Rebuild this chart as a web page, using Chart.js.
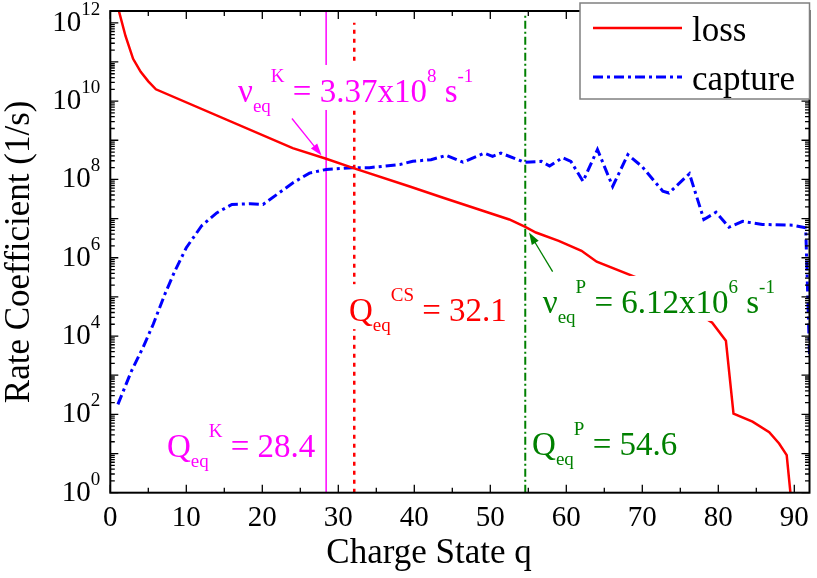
<!DOCTYPE html>
<html>
<head>
<meta charset="utf-8">
<script src="https://cdn.jsdelivr.net/npm/chart.js@4.4.1/dist/chart.umd.min.js"></script>
<style>
  html, body { margin: 0; padding: 0; background: #fff; }
</style>
</head>
<body>
<canvas id="rateChart" width="817" height="578"></canvas>
<script>
// ==============================|| DATA ||============================== //
const lossQ    = [1, 2, 3, 4, 5, 6, 24, 28.4, 32, 39.4, 43.8, 52.5, 54.6, 56, 59, 62, 64, 71.5, 79.2, 81, 82, 84.5, 86.7, 88, 89, 90];
const lossRate = [2.5e12, 4.6e11, 1.2e11, 5.6e10, 3.2e10, 2.0e10, 6.3e8, 3.37e8, 1.95e8, 6.6e7, 3.4e7, 9.5e6, 6.12e6, 4.4e6, 2.7e6, 1.5e6, 7.9e5, 2.1e5, 2.2e4, 7.6e3, 105, 65, 35, 18, 9.1, 0.1];

const captureQ    = [1, 2.8, 4.3, 5.65, 7.2, 8.5, 10, 12, 14, 16, 18.4, 20.1, 21.9, 24, 26.2, 28.4, 31.9, 34.1, 38.1, 39.8, 42.2, 44.2, 46.4, 49.2, 50.3, 51.4, 54.5, 56.7, 57.8, 59.5, 60.6, 62.2, 64.1, 66.1, 68.1, 70, 72.7, 73.5, 76.2, 78.1, 79.7, 81.4, 83.2, 85.8, 89.8, 91.5, 92];
const captureRate = [180, 1.3e3, 5.1e3, 2.0e4, 1.2e5, 4.6e5, 1.8e6, 6.5e6, 1.4e7, 2.3e7, 2.4e7, 2.3e7, 4.1e7, 8.1e7, 1.45e8, 1.8e8, 2.0e8, 2.0e8, 2.4e8, 2.9e8, 3.2e8, 4.1e8, 2.75e8, 4.7e8, 3.9e8, 4.7e8, 2.75e8, 2.9e8, 2.2e8, 3.6e8, 2.9e8, 8.9e7, 5.8e8, 6.6e7, 4.3e8, 2.1e8, 5.0e7, 4.5e7, 1.4e8, 9.5e6, 1.45e7, 6.0e6, 8.5e6, 7.1e6, 6.8e6, 5.8e6, 3.5e3];

// equilibrium charge states (vertical markers)
const qEqK = 28.4;
const qEqCS = 32.1;
const qEqP = 54.6;

// axis ticks
const xTickValues = [0, 10, 20, 30, 40, 50, 60, 70, 80, 90];
const yTickExps = [0, 2, 4, 6, 8, 10, 12];

// ==============================|| STYLE ||============================== //
const FONT = '"Liberation Serif", "Times New Roman", serif';
const RED = '#ff0000';
const BLUE = '#0000ff';
const MAGENTA = '#ff00ff';
const GREEN = '#008000';

const pts = (xs, ys) => xs.map((q, i) => ({ x: q, y: ys[i] }));

// text annotations: [text, level] level 0 normal, 1 subscript, 2 superscript
const notes = [
  { q: 16.8, v: 9.5e9, color: MAGENTA, parts: [['\u03bd', 0], ['eq', 1], ['K', 2], [' = 3.37x10', 0], ['8', 2], [' s', 0], ['-1', 2]] },
  { q: 31.4, v: 2.4e4, color: RED,     parts: [['Q', 0], ['eq', 1], ['CS', 2], [' = 32.1', 0]] },
  { q: 56.9, v: 3.9e4, color: GREEN,   parts: [['\u03bd', 0], ['eq', 1], ['P', 2], [' = 6.12x10', 0], ['6', 2], [' s', 0], ['-1', 2]] },
  { q: 7.45, v: 8.1,   color: MAGENTA, parts: [['Q', 0], ['eq', 1], ['K', 2], [' = 28.4', 0]] },
  { q: 55.5, v: 9.1,   color: GREEN,   parts: [['Q', 0], ['eq', 1], ['P', 2], [' = 54.6', 0]] }
];

const arrows = [
  { from: [23.9, 3.6e9], to: [27.8, 4.1e8], color: MAGENTA },
  { from: [58.2, 4.4e5], to: [55.1, 4.4e6], color: GREEN }
];

// ==============================|| HELPERS ||============================== //
function drawParts(ctx, x0, base, parts, color) {
  const MAIN = 33, SMALL = 19;
  let cx = x0;
  const items = parts.map(([t, lvl]) => {
    ctx.font = `${lvl ? SMALL : MAIN}px ${FONT}`;
    const w = ctx.measureText(t).width;
    const it = { t, lvl, x: cx };
    cx += w;
    return it;
  });
  ctx.fillStyle = '#fff';
  ctx.fillRect(x0 - 3, base - 37, cx - x0 + 6, 45);
  ctx.fillStyle = color;
  ctx.textBaseline = 'alphabetic';
  ctx.textAlign = 'left';
  items.forEach(it => {
    ctx.font = `${it.lvl ? SMALL : MAIN}px ${FONT}`;
    const dy = it.lvl === 1 ? 10 : it.lvl === 2 ? -20 : 0;
    ctx.fillText(it.t, it.x, base + dy);
  });
}

function drawArrow(ctx, x1, y1, x2, y2, color) {
  const ang = Math.atan2(y2 - y1, x2 - x1);
  const len = 12, half = 4;
  ctx.strokeStyle = color;
  ctx.fillStyle = color;
  ctx.lineWidth = 1.3;
  ctx.setLineDash([]);
  ctx.beginPath();
  ctx.moveTo(x1, y1);
  ctx.lineTo(x2 - Math.cos(ang) * len * 0.8, y2 - Math.sin(ang) * len * 0.8);
  ctx.stroke();
  ctx.beginPath();
  ctx.moveTo(x2, y2);
  ctx.lineTo(x2 - Math.cos(ang) * len - Math.sin(ang) * half, y2 - Math.sin(ang) * len + Math.cos(ang) * half);
  ctx.lineTo(x2 - Math.cos(ang) * len + Math.sin(ang) * half, y2 - Math.sin(ang) * len - Math.cos(ang) * half);
  ctx.closePath();
  ctx.fill();
}

// ==============================|| DECORATION PLUGIN ||============================== //
const decorations = {
  id: 'decorations',
  afterDatasetsDraw(chart) {
    const { ctx, scales: { x, y } } = chart;
    ctx.save();
    notes.forEach(n => drawParts(ctx, x.getPixelForValue(n.q), y.getPixelForValue(n.v), n.parts, n.color));
    arrows.forEach(a => drawArrow(ctx,
      x.getPixelForValue(a.from[0]), y.getPixelForValue(a.from[1]),
      x.getPixelForValue(a.to[0]), y.getPixelForValue(a.to[1]), a.color));
    ctx.restore();
  },
  afterDraw(chart) {
    const { ctx, chartArea: a, scales: { x, y } } = chart;
    ctx.save();
    ctx.strokeStyle = '#000';
    ctx.setLineDash([]);

    // tick marks, inward on all four sides
    ctx.lineWidth = 1.3;
    ctx.beginPath();
    for (let q = 0; q <= 92; q += 5) {
      const px = x.getPixelForValue(q);
      const len = q % 10 === 0 ? 8 : 5;
      ctx.moveTo(px, a.bottom); ctx.lineTo(px, a.bottom - len);
      ctx.moveTo(px, a.top); ctx.lineTo(px, a.top + len);
    }
    for (let d = 0; d <= 12; d++) {
      for (let m = 1; m <= 9; m++) {
        const v = m * Math.pow(10, d);
        if (v > y.max) break;
        const py = y.getPixelForValue(v);
        const len = m === 1 ? 8 : 4.5;
        ctx.moveTo(a.left, py); ctx.lineTo(a.left + len, py);
        ctx.moveTo(a.right, py); ctx.lineTo(a.right - len, py);
      }
    }
    ctx.stroke();

    // frame
    ctx.lineWidth = 2;
    ctx.strokeRect(a.left, a.top, a.right - a.left, a.bottom - a.top);

    // y tick labels 10^n
    ctx.fillStyle = '#000';
    ctx.textBaseline = 'alphabetic';
    ctx.textAlign = 'left';
    yTickExps.forEach(e => {
      const py = y.getPixelForValue(Math.pow(10, e));
      ctx.font = `19px ${FONT}`;
      const sup = String(e);
      const ws = ctx.measureText(sup).width;
      ctx.font = `29px ${FONT}`;
      const wb = ctx.measureText('10').width;
      const right = a.left - 10;
      ctx.fillText('10', right - ws - wb, py + 8);
      ctx.font = `19px ${FONT}`;
      ctx.fillText(sup, right - ws, py - 8);
    });

    // axis titles
    ctx.font = `35px ${FONT}`;
    ctx.textAlign = 'center';
    ctx.fillText('Charge State q', 429, 563);
    ctx.save();
    ctx.translate(29, (a.top + a.bottom) / 2);
    ctx.rotate(-Math.PI / 2);
    ctx.fillText('Rate Coefficient (1/s)', 0, 0);
    ctx.restore();

    // legend
    const lx = 580, ly = 3, lw = a.right - lx, lh = 96;
    ctx.fillStyle = '#fff';
    ctx.fillRect(lx, ly, lw, lh);
    ctx.strokeStyle = '#808080';
    ctx.lineWidth = 1.5;
    ctx.strokeRect(lx, ly, lw, lh);
    [0, 1].forEach((i, k) => {
      const ds = chart.data.datasets[i];
      const yy = ly + 25 + k * 49;
      ctx.strokeStyle = ds.borderColor;
      ctx.lineWidth = ds.borderWidth;
      ctx.setLineDash(ds.borderDash || []);
      ctx.beginPath();
      ctx.moveTo(lx + 13, yy);
      ctx.lineTo(lx + 102, yy);
      ctx.stroke();
      ctx.setLineDash([]);
      ctx.fillStyle = '#000';
      ctx.font = `35px ${FONT}`;
      ctx.textAlign = 'left';
      ctx.fillText(ds.label, lx + 112, yy + 13);
    });
    ctx.restore();
  }
};

// ==============================|| CHART ||============================== //
new Chart(document.getElementById('rateChart'), {
  type: 'line',
  data: {
    datasets: [
      { label: 'loss', data: pts(lossQ, lossRate), borderColor: RED, borderWidth: 2.5, pointRadius: 0, tension: 0 },
      { label: 'capture', data: pts(captureQ, captureRate), borderColor: BLUE, borderWidth: 3, borderDash: [10, 4, 3, 4], pointRadius: 0, tension: 0 },
      { label: 'QK', data: pts([qEqK, qEqK], [1, 2e12]), borderColor: MAGENTA, borderWidth: 1.5, pointRadius: 0 },
      { label: 'QCS', data: pts([qEqCS, qEqCS], [1, 1e12]), borderColor: RED, borderWidth: 2.5, borderDash: [4, 5], pointRadius: 0 },
      { label: 'QP', data: pts([qEqP, qEqP], [1, 1.6e12]), borderColor: GREEN, borderWidth: 2, borderDash: [8, 3, 2, 3], pointRadius: 0 }
    ]
  },
  options: {
    responsive: false,
    animation: false,
    devicePixelRatio: 1,
    layout: { padding: { top: 11, right: 7.5, left: 0, bottom: 0 } },
    plugins: { legend: { display: false }, tooltip: { enabled: false } },
    scales: {
      x: {
        type: 'linear', min: 0, max: 92,
        grid: { display: false, drawTicks: false },
        border: { display: false },
        afterBuildTicks: s => { s.ticks = xTickValues.map(v => ({ value: v })); },
        afterFit: s => { s.height = 85.3; },
        ticks: { font: { family: FONT, size: 29 }, color: '#000', padding: 8, maxRotation: 0 }
      },
      y: {
        type: 'logarithmic', min: 1, max: 2e12,
        grid: { display: false, drawTicks: false },
        border: { display: false },
        ticks: { display: false },
        afterFit: s => { s.width = 110.3; }
      }
    }
  },
  plugins: [decorations]
});
</script>
</body>
</html>
